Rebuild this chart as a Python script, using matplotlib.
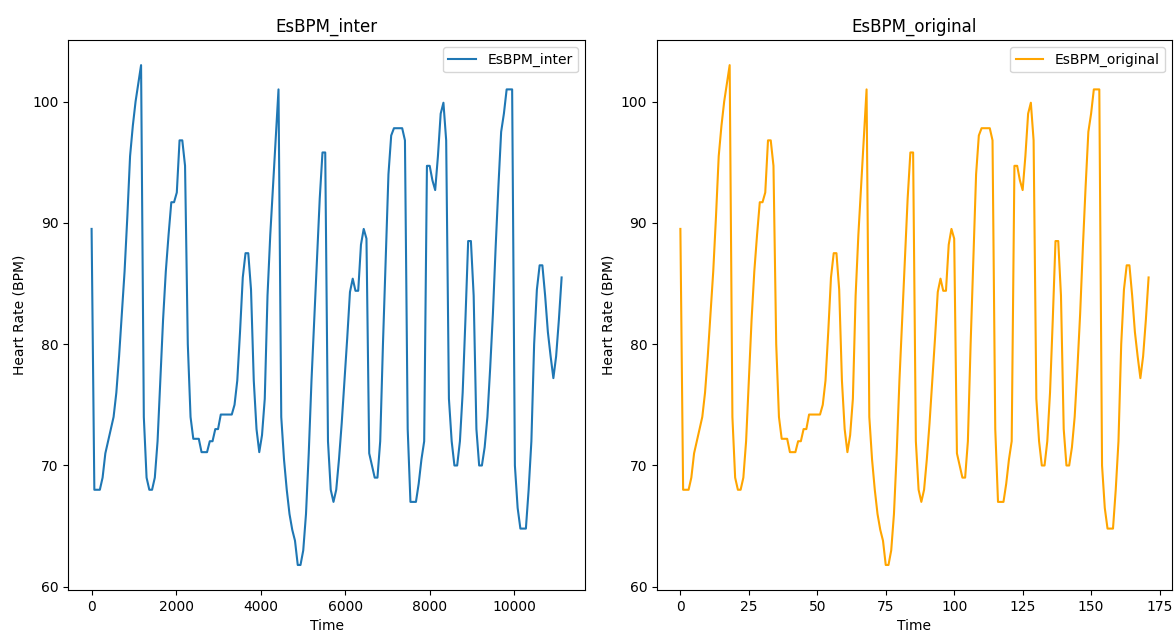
import numpy as np
import matplotlib.pyplot as plt

# estimated heart rate per sample (same curve in both panels)
esbpm_original = [
    89.5, 68.0, 68.0, 68.0, 69.0, 71.0, 72.0, 73.0, 74.0, 76.0,
    79.0, 82.5, 86.0, 90.5, 95.5, 98.0, 100.0, 101.5, 103.0, 74.0,
    69.0, 68.0, 68.0, 69.0, 72.0, 77.0, 82.0, 86.0, 89.0, 91.7,
    91.7, 92.5, 96.8, 96.8, 94.7, 80.0, 74.0, 72.2, 72.2, 72.2,
    71.1, 71.1, 71.1, 72.0, 72.0, 73.0, 73.0, 74.2, 74.2, 74.2,
    74.2, 74.2, 75.0, 77.0, 81.0, 85.5, 87.5, 87.5, 84.5, 77.0,
    73.0, 71.1, 72.5, 75.5, 84.0, 89.0, 93.0, 97.0, 101.0, 74.0,
    70.5, 68.0, 66.0, 64.7, 63.8, 61.8, 61.8, 63.0, 66.0, 71.0,
    77.0, 82.0, 87.0, 92.0, 95.8, 95.8, 72.0, 68.0, 67.0, 68.0,
    70.5, 73.5, 77.0, 80.5, 84.3, 85.4, 84.4, 84.4, 88.2, 89.5,
    88.7, 71.0, 70.0, 69.0, 69.0, 72.0, 80.0, 87.0, 94.0, 97.2,
    97.8, 97.8, 97.8, 97.8, 96.8, 73.0, 67.0, 67.0, 67.0, 68.5,
    70.5, 72.0, 94.7, 94.7, 93.5, 92.7, 95.5, 99.0, 99.9, 96.8,
    75.5, 72.0, 70.0, 70.0, 72.0, 76.0, 82.0, 88.5, 88.5, 84.0,
    73.0, 70.0, 70.0, 71.5, 74.0, 78.0, 82.5, 88.0, 93.0, 97.5,
    99.0, 101.0, 101.0, 101.0, 70.0, 66.5, 64.8, 64.8, 64.8, 68.0,
    72.0, 80.0, 84.5, 86.5, 86.5, 84.0, 81.0, 79.0, 77.2, 79.0,
    82.0, 85.5,
]
esbpm_inter = list(esbpm_original)

sample_index = np.arange(len(esbpm_original))
inter_time = sample_index * 65  # interpolated time axis, ~65 units per sample

fig = plt.figure(figsize=(11.74, 6.32), dpi=100)
ax1 = fig.add_axes([0.058, 0.0665, 0.4404, 0.870])
ax2 = fig.add_axes([0.5596, 0.0665, 0.4387, 0.870])

ax1.plot(inter_time, esbpm_inter, color='#1f77b4', label='EsBPM_inter')
ax1.set_title('EsBPM_inter')
ax1.set_xlabel('Time')
ax1.set_ylabel('Heart Rate (BPM)')
ax1.legend(loc='upper right')

ax2.plot(sample_index, esbpm_original, color='orange', label='EsBPM_original')
ax2.set_title('EsBPM_original')
ax2.set_xlabel('Time')
ax2.set_ylabel('Heart Rate (BPM)')
ax2.legend(loc='upper right')

fig.savefig('out.png', dpi=100)
